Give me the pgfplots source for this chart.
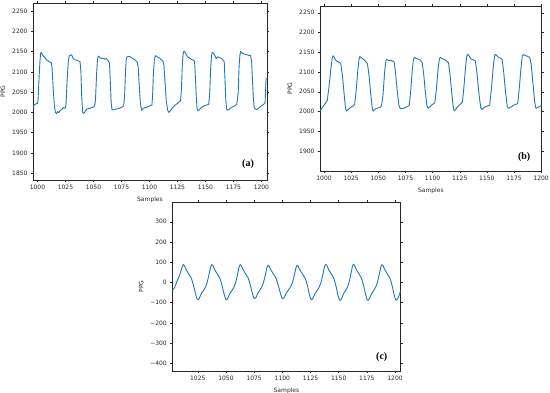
\documentclass[border=0pt]{standalone}
\usepackage{pgfplots}
\pgfplotsset{compat=1.18}
\usepackage{fontspec}
\setmainfont{DejaVu Sans}
\newfontfamily\labfont{Liberation Serif}
\definecolor{mplblue}{HTML}{1F77B4}
\pgfplotsset{
  ppg/.style={
    scale only axis,
    axis line style={black!85, line width=0.5pt},
    tick align=outside,
    major tick length=2pt,
    tick style={black!85, line width=0.4pt},
    ticklabel style={font=\fontsize{6}{7}\selectfont, text=black!85},
    label style={font=\fontsize{6}{7}\selectfont, text=black!85},
    /pgf/number format/assume math mode=true,
    /pgf/number format/1000 sep={},
    xtick={1000,1025,...,1200},
    ylabel={PPG},
    xlabel={Samples},
    anchor=south west,
  },
  sig/.style={mplblue, line width=0.9pt, line join=round, no markers},
}
\begin{document}
\begin{tikzpicture}
\useasboundingbox (0,0) rectangle (550pt,393pt);
% (a)
\begin{axis}[ppg, at={(33pt,213pt)}, width=234pt, height=177pt,
  xmin=996, xmax=1205, ymin=1833, ymax=2270, ytick={1850,1900,...,2250}]
\addplot[sig] coordinates {
(996,2012)(997,2018)(998.5,2021)(1000,2022)
(1000.5,2030)(1001.5,2090)(1002.3,2130)(1003,2148)(1004,2145)(1005,2140)(1006.5,2136)(1008,2130)(1009.5,2127)(1011,2124)(1012.3,2123)(1013,2110)(1014,2060)(1015,2020)(1016,2000)(1017,1997)(1018,2002)(1019,1999)(1020,2004)(1021,2006)(1022,2008)(1023,2012)(1024,2010)(1025,2011)
(1025.5,2020)(1026.5,2080)(1027.5,2125)(1028.3,2139)(1029.5,2141)(1030.5,2142)(1031.5,2135)(1033,2130)(1035,2129)(1036.5,2127)(1038,2125)(1038.8,2100)(1039.5,2040)(1040.3,2000)(1041,1998)(1042,1999)(1043,2005)(1044,2008)(1045.5,2009)(1047,2010)(1048.5,2012)(1050,2013)(1051,2015)
(1051.8,2030)(1052.8,2095)(1053.6,2130)(1054.3,2139)(1055.5,2136)(1057,2133)(1058.5,2134)(1060,2131)(1061.5,2133)(1063,2128)(1064.3,2122)(1065,2080)(1065.8,2025)(1066.5,2007)(1068,2006)(1070,2008)(1072,2009)(1074,2011)(1076,2014)(1077,2016)
(1077.8,2040)(1078.6,2100)(1079.3,2132)(1080,2137)(1081.5,2138)(1083,2137)(1084.5,2134)(1086,2132)(1087.5,2128)(1089,2125)(1090,2110)(1091,2060)(1092,2020)(1093,2005)(1094,2009)(1095.5,2011)(1097,2012)(1099,2014)(1101,2017)(1102.2,2018)
(1102.8,2040)(1103.6,2100)(1104.4,2130)(1105.3,2140)(1106.5,2138)(1107.5,2136)(1109,2134)(1110.5,2130)(1112,2127)(1113,2115)(1114,2070)(1115,2030)(1116.3,2005)(1117.3,2000)(1118.5,2003)(1120,2010)(1121.5,2014)(1123,2018)(1125,2022)(1126.5,2026)(1127.8,2028)
(1128.6,2060)(1129.4,2120)(1130.1,2145)(1130.8,2151)(1132,2148)(1133,2142)(1134.5,2136)(1136,2134)(1137.5,2131)(1139,2129)(1140.3,2126)(1141,2090)(1141.8,2040)(1142.5,2010)(1143.2,2004)(1144.5,2006)(1146,2011)(1147.5,2014)(1149,2016)(1151,2018)(1153,2020)
(1153.9,2050)(1154.7,2110)(1155.4,2140)(1156.1,2148)(1157.2,2146)(1158.5,2140)(1159.5,2133)(1161,2137)(1162.5,2135)(1164,2134)(1165.5,2130)(1166.8,2125)(1167.5,2080)(1168.2,2030)(1169,2008)(1170,2005)(1171.5,2008)(1173,2012)(1174.5,2014)(1176,2016)(1178,2020)
(1179.3,2050)(1180.1,2115)(1180.8,2142)(1181.5,2150)(1183,2146)(1184.5,2144)(1186,2143)(1187.5,2142)(1189,2140)(1190.3,2141)(1191.3,2125)(1192,2080)(1192.8,2035)(1193.6,2012)(1194.4,2008)(1196,2007)(1197.5,2010)(1199,2014)(1200.5,2017)(1202,2020)(1203.3,2023)(1203.8,2060)(1204.2,2085)
};
\node[font=\labfont\bfseries\fontsize{10}{12}\selectfont] at (rel axis cs:0.919,0.09) {(a)};
\end{axis}
% (b)
\begin{axis}[ppg, at={(320pt,222pt)}, width=221.7pt, height=165pt,
  xmin=996.3, xmax=1200.5, ymin=1849.4, ymax=2267, ytick={1900,1950,...,2250}]
\addplot[sig] coordinates {
(996.3,2002)(997.5,2006)(999,2012)(1000.5,2018)(1002,2024)(1003,2028)(1004.5,2060)(1006,2100)(1007.5,2135)(1008.3,2141)(1009.5,2137)(1010.5,2131)(1011.5,2128)(1013,2126)(1014.5,2124)(1015.5,2120)(1017,2090)(1018.5,2045)(1019.8,2008)(1020.6,2001)(1022,2004)(1023.7,2009)(1025.5,2012)(1027,2014)(1028.2,2018)
(1029.5,2050)(1031,2100)(1032.2,2132)(1033,2139)(1034.5,2136)(1036,2133)(1038,2128)(1040,2121)(1041.5,2090)(1043,2045)(1044.4,2008)(1045.2,2001)(1046.5,2004)(1048.3,2008)(1050,2009)(1051.4,2010)(1053,2015)
(1054.3,2040)(1055.8,2100)(1057,2129)(1057.8,2132)(1059.5,2129)(1061.5,2129)(1063,2128)(1064.6,2125)(1066,2095)(1067.5,2050)(1069,2015)(1070.2,2008)(1071.5,2007)(1073,2008)(1075,2010)(1077,2013)(1078.5,2016)
(1079.8,2050)(1081.3,2105)(1082.4,2132)(1083.2,2137)(1085,2134)(1086.6,2133)(1088.5,2130)(1090.4,2124)(1091.8,2095)(1093.3,2050)(1094.8,2015)(1096,2008)(1097.5,2012)(1099,2016)(1100.5,2019)(1102,2022)
(1103.5,2055)(1105,2105)(1106.2,2132)(1107,2137)(1108.8,2134)(1110.8,2132)(1112.8,2128)(1114.7,2123)(1116.2,2090)(1117.7,2045)(1119.2,2008)(1120,2002)(1121.5,2006)(1123.1,2012)(1124.7,2016)(1126.2,2020)(1127.5,2024)
(1128.8,2060)(1130.3,2110)(1131.5,2140)(1132.3,2145)(1133.8,2140)(1135.4,2133)(1137.4,2131)(1139.4,2128)(1141,2095)(1142.5,2050)(1144.3,2010)(1145.5,2005)(1147,2009)(1148.6,2012)(1150.5,2014)(1152.6,2016)
(1154.3,2060)(1155.8,2110)(1157,2140)(1157.8,2145)(1159.4,2141)(1160.9,2137)(1162.5,2135)(1164,2132)(1165.5,2100)(1167,2055)(1168.8,2012)(1170.1,2008)(1171.8,2011)(1173.2,2013)(1174.7,2016)(1176.5,2018)(1178.4,2020)
(1179.9,2060)(1181.4,2110)(1182.6,2140)(1183.4,2144)(1185,2142)(1187.1,2140)(1189.5,2137)(1190.8,2120)(1192.3,2075)(1194,2025)(1195,2010)(1195.6,2008)(1197.5,2011)(1199.3,2014)(1200.5,2015)
};
\node[font=\labfont\bfseries\fontsize{10}{12}\selectfont] at (rel axis cs:0.921,0.087) {(b)};
\end{axis}
% (c)
\begin{axis}[ppg, at={(172.3pt,22pt)}, width=228.4pt, height=168.7pt,
  xmin=1002.4, xmax=1205, ymin=-438, ymax=396,
  xtick={1025,1050,...,1200},
  ytick={-400,-300,-200,-100,0,100,200,300},
  yticklabels={−400,−300,−200,−100,0,100,200,300}]
\addplot[sig, smooth, tension=0.5] coordinates {
(1002.4,-40)(1004.5,-25)(1006.3,2)(1008.5,30)(1010.3,60)(1011.3,80)(1012.2,88)
(1013.2,82)(1014.9,61)(1017.2,40)(1019.2,22)(1021.2,-15)(1023.2,-60)(1024.7,-85)
(1026.2,-80)(1028.2,-55)(1031.2,-30)(1033.2,-2)(1035.2,45)(1036.4,75)(1037.5,88)
(1038.5,82)(1040.2,61)(1042.5,40)(1044.5,22)(1046.5,-15)(1048.5,-60)(1050,-85)
(1051.5,-80)(1053.5,-55)(1056.5,-30)(1058.5,-2)(1060.5,45)(1061.6,75)(1062.7,88)
(1063.7,82)(1065.4,61)(1067.7,40)(1069.7,22)(1071.7,-15)(1073.6,-58)(1075,-80)
(1076.5,-76)(1078.4,-52)(1081.2,-28)(1083.2,-2)(1085.2,44)(1086.3,72)(1087.4,85)
(1088.4,79)(1090.1,59)(1092.4,39)(1094.4,21)(1096.4,-15)(1098.5,-58)(1100,-80)
(1101.5,-76)(1103.6,-52)(1106.6,-28)(1108.9,-2)(1111,44)(1112.1,72)(1113.2,85)
(1114.2,79)(1115.9,59)(1118.2,39)(1120.2,21)(1122.2,-15)(1124,-60)(1125.5,-85)
(1127,-80)(1129,-55)(1132,-30)(1134.2,-2)(1136.2,46)(1137.4,77)(1138.5,90)
(1139.5,84)(1141.2,62)(1143.5,41)(1145.5,22)(1147.5,-16)(1149.3,-62)(1150.8,-88)
(1152.3,-83)(1154.3,-56)(1157.2,-30)(1159.1,-2)(1161,46)(1162.1,77)(1163.1,90)
(1164.1,84)(1165.8,62)(1168.1,41)(1170.1,22)(1172.1,-16)(1174,-62)(1175.5,-88)
(1177,-83)(1179.2,-56)(1182.2,-30)(1184.2,-2)(1186.2,45)(1187.3,75)(1188.4,88)
(1189.4,82)(1191.1,61)(1193.4,40)(1195.4,22)(1197.4,-16)(1199.2,-62)(1200.7,-88)
(1202.2,-82)(1204.8,-45)
};
\node[font=\labfont\bfseries\fontsize{10}{12}\selectfont] at (rel axis cs:0.917,0.085) {(c)};
\end{axis}
\end{tikzpicture}
\end{document}
